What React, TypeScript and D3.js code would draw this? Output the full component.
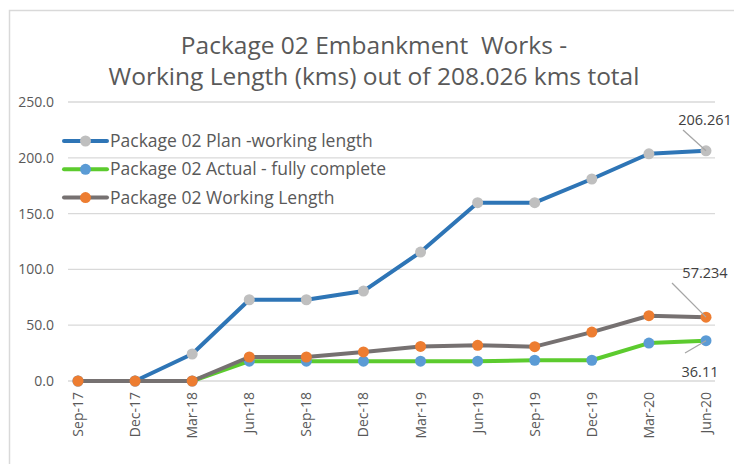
import React from "react";
import * as d3 from "d3";

const categories = ["Sep-17","Dec-17","Mar-18","Jun-18","Sep-18","Dec-18","Mar-19","Jun-19","Sep-19","Dec-19","Mar-20","Jun-20"];
const planValues = [0, 0, 24.2, 72.8, 72.8, 80.6, 115.5, 159.8, 159.8, 181, 203.6, 206.261];
const actualValues = [0, 0, 0, 17.8, 17.8, 17.8, 17.8, 17.8, 18.6, 18.6, 34, 36.11];
const workingValues = [0, 0, 0, 21.5, 21.5, 26, 31, 32, 30.8, 43.8, 58.5, 57.234];
const yTicks = [0, 50, 100, 150, 200, 250];
const seriesNames = ["Package 02 Plan -working length", "Package 02 Actual - fully complete", "Package 02 Working Length"];
const titleLines = ["Package 02 Embankment  Works -", "Working Length (kms) out of 208.026 kms total"];

const W = 734, H = 464;
const FONT = "'Open Sans', sans-serif";

export default function App() {
  const x = d3.scalePoint<string>().domain(categories).range([78, 706]);
  const y = d3.scaleLinear().domain([0, 250]).range([381, 102]);
  const line = d3.line<number>().x((_, i) => x(categories[i])!).y((d) => y(d));

  const series = [
    { name: seriesNames[0], values: planValues, stroke: "#2E75B6", fill: "#BFBFBF" },
    { name: seriesNames[1], values: actualValues, stroke: "#5CCB2E", fill: "#5B9BD5" },
    { name: seriesNames[2], values: workingValues, stroke: "#767171", fill: "#ED7D31" },
  ];

  const last = categories.length - 1;
  const lx = x(categories[last])!;
  const labels = [
    { text: planValues[last].toString(), vx: lx, vy: y(planValues[last]), tx: 705, ty: 125, l1: [683, 130] },
    { text: workingValues[last].toString(), vx: lx, vy: y(workingValues[last]), tx: 705, ty: 278, l1: [672, 283] },
    { text: actualValues[last].toString(), vx: lx, vy: y(actualValues[last]), tx: 700, ty: 377, l1: [685, 353] },
  ];

  return (
    <svg width={W} height={H} style={{ position: "fixed", left: 0, top: 0, background: "#fff" }} fontFamily={FONT}>
      <rect x={9.5} y={10.5} width={W + 10} height={H + 10} fill="#fff" stroke="#D9D9D9" strokeWidth={1.5} />
      {titleLines.map((t, i) => (
        <text key={i} x={374} y={54 + i * 31} textAnchor="middle" fontSize={24.5} fill="#595959" style={{ whiteSpace: "pre" }}>{t}</text>
      ))}
      {yTicks.map((t) => (
        <g key={t}>
          <line x1={68} x2={715} y1={y(t)} y2={y(t)} stroke="#D9D9D9" strokeWidth={1.3} />
          <text x={54} y={y(t) + 5} textAnchor="end" fontSize={14} fill="#595959">{t.toFixed(1)}</text>
        </g>
      ))}
      {categories.map((c) => (
        <text key={c} transform={`translate(${x(c)! + 5},392) rotate(-90)`} textAnchor="end" fontSize={14} fill="#595959">{c}</text>
      ))}
      {series.map((s) => (
        <g key={s.name}>
          <path d={line(s.values)!} fill="none" stroke={s.stroke} strokeWidth={4} strokeLinejoin="round" strokeLinecap="round" />
          {s.values.map((v, i) => (
            <circle key={i} cx={x(categories[i])!} cy={y(v)} r={5.5} fill={s.fill} />
          ))}
        </g>
      ))}
      {labels.map((l, i) => (
        <g key={i}>
          <line x1={l.l1[0]} y1={l.l1[1]} x2={l.vx} y2={l.vy} stroke="#A6A6A6" strokeWidth={1.3} />
          <text x={l.tx} y={l.ty} textAnchor="middle" fontSize={14.5} fill="#404040">{l.text}</text>
        </g>
      ))}
      {series.map((s, i) => {
        const cy = 141 + i * 28.3;
        return (
          <g key={s.name}>
            <line x1={64} x2={107} y1={cy} y2={cy} stroke={s.stroke} strokeWidth={4} strokeLinecap="round" />
            <circle cx={85.5} cy={cy} r={5.5} fill={s.fill} />
            <text x={110} y={cy + 6} fontSize={17.5} fill="#595959">{s.name}</text>
          </g>
        );
      })}
    </svg>
  );
}
